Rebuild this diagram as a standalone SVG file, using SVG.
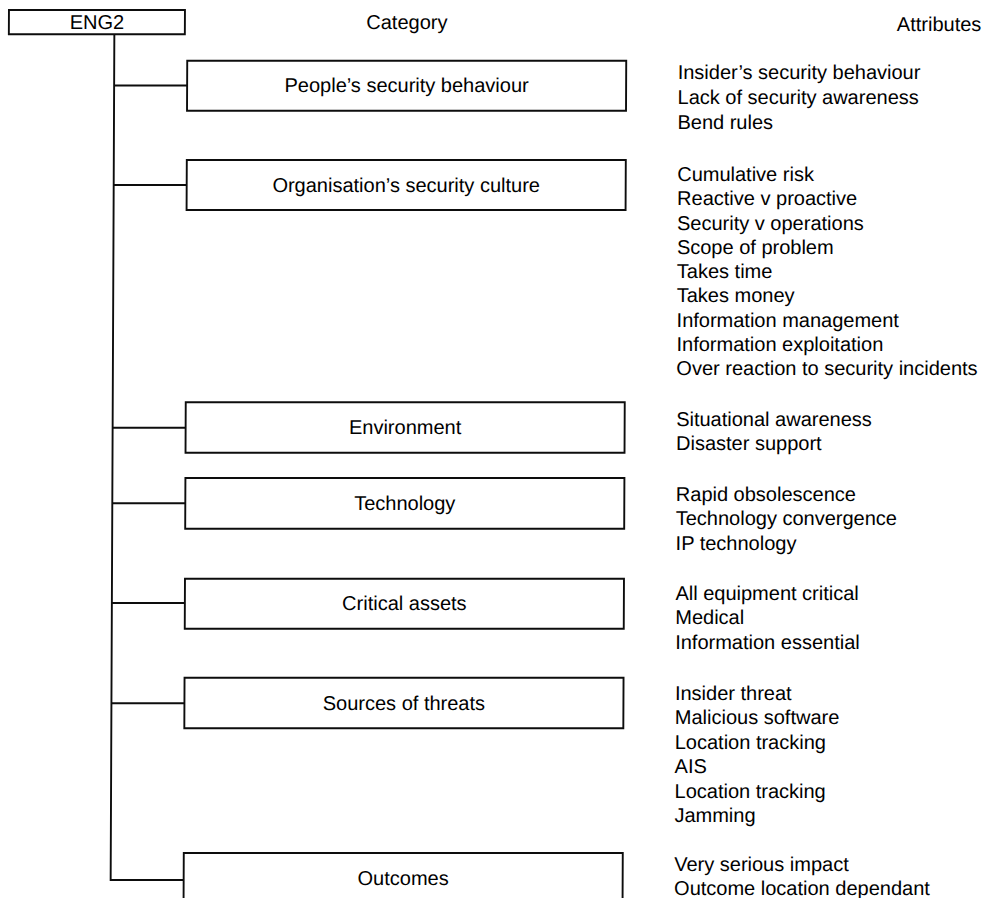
<svg xmlns="http://www.w3.org/2000/svg" width="989" height="898" viewBox="0 0 989 898">
  <style>
    .box { fill: #ffffff; stroke: #0d0d0d; stroke-width: 1.9; }
    .wire { fill: none; stroke: #0d0d0d; stroke-width: 1.9; }
    text { font-family: "Liberation Sans", Arial, Helvetica, sans-serif; font-size: 20px; fill: #000000; }
    .mid { text-anchor: middle; }
  </style>
  <rect x="0" y="0" width="989" height="898" fill="#ffffff"/>
  <g transform="skewX(-0.25)">
    <!-- column headings -->
    <g id="headings">
      <text class="mid" x="407" y="29">Category</text>
      <text x="897" y="31">Attributes</text>
    </g>

    <!-- tree connectors: trunk from the root box, one branch per category -->
    <g id="connectors">
      <path class="wire" d="M114.5 34 V880 H187.5"/>
      <path class="wire" d="M114.5 85.5 H187.5"/>
      <path class="wire" d="M114.5 185 H187.5"/>
      <path class="wire" d="M114.5 427.7 H187.5"/>
      <path class="wire" d="M114.5 503.3 H187.5"/>
      <path class="wire" d="M114.5 603 H187.5"/>
      <path class="wire" d="M114.5 703.3 H187.5"/>
    </g>

    <!-- root -->
    <g id="eng2">
      <rect class="box" x="9" y="10" width="176" height="24.3"/>
      <text class="mid" x="97" y="29">ENG2</text>
    </g>

    <g id="people">
      <rect class="box" x="187.5" y="60.7" width="439" height="50"/>
      <text class="mid" x="407" y="92.5">People’s security behaviour</text>
      <text x="678" y="79">Insider’s security behaviour</text>
      <text x="678" y="104">Lack of security awareness</text>
      <text x="678" y="129">Bend rules</text>
    </g>

    <g id="culture">
      <rect class="box" x="187.5" y="160" width="439" height="50"/>
      <text class="mid" x="407" y="192">Organisation’s security culture</text>
      <text x="678" y="181">Cumulative risk</text>
      <text x="678" y="205.3">Reactive v proactive</text>
      <text x="678" y="229.6">Security v operations</text>
      <text x="678" y="253.9">Scope of problem</text>
      <text x="678" y="278.2">Takes time</text>
      <text x="678" y="302.5">Takes money</text>
      <text x="678" y="326.8">Information management</text>
      <text x="678" y="351.1">Information exploitation</text>
      <text x="678" y="375.4">Over reaction to security incidents</text>
    </g>

    <g id="environment">
      <rect class="box" x="187.5" y="402.3" width="439" height="50.4"/>
      <text class="mid" x="407" y="434.5">Environment</text>
      <text x="678" y="426">Situational awareness</text>
      <text x="678" y="450.5">Disaster support</text>
    </g>

    <g id="technology">
      <rect class="box" x="187.5" y="478" width="439" height="50.7"/>
      <text class="mid" x="407" y="510.5">Technology</text>
      <text x="678" y="501">Rapid obsolescence</text>
      <text x="678" y="525.5">Technology convergence</text>
      <text x="678" y="550">IP technology</text>
    </g>

    <g id="assets">
      <rect class="box" x="187.5" y="578.7" width="439" height="50"/>
      <text class="mid" x="407" y="610.5">Critical assets</text>
      <text x="678" y="600">All equipment critical</text>
      <text x="678" y="624.5">Medical</text>
      <text x="678" y="649">Information essential</text>
    </g>

    <g id="threats">
      <rect class="box" x="187.5" y="677.7" width="439" height="50.6"/>
      <text class="mid" x="407" y="710">Sources of threats</text>
      <text x="678" y="700">Insider threat</text>
      <text x="678" y="724.4">Malicious software</text>
      <text x="678" y="748.8">Location tracking</text>
      <text x="678" y="773.2">AIS</text>
      <text x="678" y="797.6">Location tracking</text>
      <text x="678" y="822">Jamming</text>
    </g>

    <g id="outcomes">
      <rect class="box" x="187.5" y="853" width="439" height="60"/>
      <text class="mid" x="407" y="885">Outcomes</text>
      <text x="678" y="871.5">Very serious impact</text>
      <text x="678" y="895.5">Outcome location dependant</text>
    </g>
  </g>
</svg>
